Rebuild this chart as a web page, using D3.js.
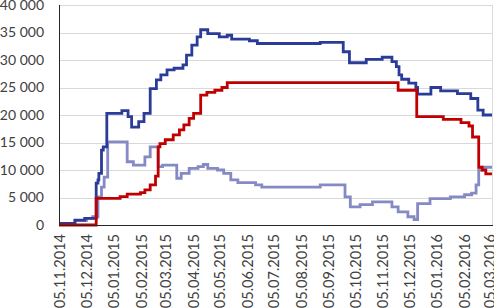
<!DOCTYPE html>
<html>
<head>
<meta charset="utf-8">
<script src="https://cdn.jsdelivr.net/npm/d3@7"></script>
<style>
  html, body { margin: 0; padding: 0; background: #fff; }
  svg { display: block; }
  text { font-family: Lato, "Open Sans", sans-serif; fill: #404040; }
</style>
</head>
<body>
<svg id="chart" width="494" height="308"></svg>
<script>
// tick labels on the date axis (5th of each month)
const tickLabels = ["05.11.2014", "05.12.2014", "05.01.2015", "05.02.2015", "05.03.2015",
  "05.04.2015", "05.05.2015", "05.06.2015", "05.07.2015", "05.08.2015", "05.09.2015",
  "05.10.2015", "05.11.2015", "05.12.2015", "05.01.2016", "05.02.2016", "05.03.2016"];
const yTicks = [0, 5000, 10000, 15000, 20000, 25000, 30000, 35000, 40000];

// step series, [date, value]
const darkBlue = [
  ["04.11.2014", 300], ["22.11.2014", 900], ["03.12.2014", 1200], ["16.12.2014", 7600],
  ["18.12.2014", 8200], ["19.12.2014", 9400], ["22.12.2014", 13600], ["24.12.2014", 14200],
  ["28.12.2014", 20300], ["14.01.2015", 20800], ["21.01.2015", 19700], ["25.01.2015", 17800],
  ["02.02.2015", 18800], ["08.02.2015", 20300], ["15.02.2015", 24800], ["22.02.2015", 26400],
  ["27.02.2015", 27300], ["06.03.2015", 28200], ["14.03.2015", 28500], ["24.03.2015", 29100],
  ["28.03.2015", 30900], ["03.04.2015", 32700], ["09.04.2015", 34200], ["13.04.2015", 35500],
  ["21.04.2015", 34800], ["04.05.2015", 34200], ["13.05.2015", 34500], ["18.05.2015", 33800],
  ["07.06.2015", 33500], ["16.06.2015", 33000], ["26.08.2015", 33200], ["21.09.2015", 31500],
  ["28.09.2015", 29500], ["17.10.2015", 30100], ["04.11.2015", 30500], ["15.11.2015", 29700],
  ["20.11.2015", 28800], ["23.11.2015", 27300], ["26.11.2015", 26500], ["04.12.2015", 25800],
  ["12.12.2015", 25000], ["14.12.2015", 23800], ["29.12.2015", 25000], ["09.01.2016", 24400],
  ["28.01.2016", 23900], ["12.02.2016", 23000], ["20.02.2016", 20900], ["26.02.2016", 20000],
  ["07.03.2016", 20000]
];
const red = [
  ["04.11.2014", 0], ["16.12.2014", 4850], ["12.01.2015", 5150], ["20.01.2015", 5600],
  ["04.02.2015", 5900], ["09.02.2015", 6400], ["15.02.2015", 7300], ["21.02.2015", 8900],
  ["24.02.2015", 14200], ["26.02.2015", 14800], ["04.03.2015", 15500], ["13.03.2015", 16400],
  ["20.03.2015", 17300], ["25.03.2015", 18200], ["31.03.2015", 19400], ["05.04.2015", 20300],
  ["13.04.2015", 23600], ["20.04.2015", 24100], ["29.04.2015", 24500], ["07.05.2015", 25000],
  ["13.05.2015", 25900], ["22.11.2015", 24500], ["13.12.2015", 19700], ["12.01.2016", 19200],
  ["01.02.2016", 18600], ["10.02.2016", 18000], ["14.02.2016", 16000], ["21.02.2016", 10500],
  ["25.02.2016", 10000], ["29.02.2016", 9300], ["07.03.2016", 9300]
];
const lightBlue = [
  ["04.11.2014", 300], ["22.11.2014", 800], ["05.12.2014", 1200], ["12.12.2014", 1500],
  ["18.12.2014", 5100], ["22.12.2014", 6900], ["25.12.2014", 8700], ["29.12.2014", 15100],
  ["20.01.2015", 11500], ["27.01.2015", 10900], ["09.02.2015", 12400], ["15.02.2015", 14200],
  ["24.02.2015", 10600], ["01.03.2015", 10900], ["17.03.2015", 8500], ["22.03.2015", 9400],
  ["31.03.2015", 10300], ["10.04.2015", 10600], ["16.04.2015", 11000], ["21.04.2015", 10300],
  ["02.05.2015", 10000], ["09.05.2015", 9400], ["17.05.2015", 8200], ["25.05.2015", 7700],
  ["14.06.2015", 7300], ["21.06.2015", 6900], ["26.08.2015", 7300], ["23.09.2015", 5100],
  ["29.09.2015", 3300], ["10.10.2015", 3700], ["24.10.2015", 4200], ["15.11.2015", 3300],
  ["22.11.2015", 2400], ["03.12.2015", 1500], ["10.12.2015", 1000], ["14.12.2015", 3900],
  ["28.12.2015", 4800], ["20.01.2016", 5100], ["05.02.2016", 5500], ["13.02.2016", 5800],
  ["18.02.2016", 7300], ["21.02.2016", 10000], ["25.02.2016", 10500], ["07.03.2016", 10500]
];

const parse = d3.timeParse("%d.%m.%Y");
const svg = d3.select("#chart");

const plotLeft = 59, plotRight = 492, plotTop = 5, plotBottom = 225;

let x = d3.scaleTime()
  .domain([parse("04.11.2014"), parse("07.03.2016")])
  .range([plotLeft, plotRight]);
let y = d3.scaleLinear().domain([0, 40000]).range([plotBottom, plotTop]);

// gridlines
svg.append("g")
  .selectAll("line")
  .data(yTicks.filter(d => d > 0))
  .join("line")
  .attr("x1", plotLeft).attr("x2", plotRight)
  .attr("y1", d => Math.round(y(d)) + 0.5).attr("y2", d => Math.round(y(d)) + 0.5)
  .attr("stroke", "#d9d9d9");

// right border of the plot area
svg.append("line")
  .attr("x1", plotRight + 0.5).attr("x2", plotRight + 0.5)
  .attr("y1", plotTop).attr("y2", plotBottom)
  .attr("stroke", "#d9d9d9");

// y axis labels
svg.append("g")
  .selectAll("text")
  .data(yTicks)
  .join("text")
  .attr("x", 44)
  .attr("y", d => y(d))
  .attr("dy", "0.35em")
  .attr("text-anchor", "end")
  .style("font-size", "14px")
  .text(d => d3.format(",")(d).replace(/,/g, " "));

// x axis labels, rotated
svg.append("g")
  .selectAll("text")
  .data(tickLabels)
  .join("text")
  .attr("transform", d => `translate(${x(parse(d))},${plotBottom + 9}) rotate(-90)`)
  .attr("dy", "0.36em")
  .attr("text-anchor", "end")
  .style("font-size", "14.5px")
  .text(d => d);

// step lines
let line = d3.line()
  .curve(d3.curveStepAfter)
  .x(d => x(parse(d[0])))
  .y(d => y(d[1]));

let series = [
  {data: lightBlue, color: "#8589c4"},
  {data: darkBlue, color: "#2b3c98"},
  {data: red, color: "#c00000"}
];
svg.append("g")
  .selectAll("path")
  .data(series)
  .join("path")
  .attr("d", d => line(d.data))
  .attr("fill", "none")
  .attr("stroke", d => d.color)
  .attr("stroke-width", 2.8)
  .attr("stroke-linejoin", "miter");

// axis lines
svg.append("line")
  .attr("x1", plotLeft + 0.5).attr("x2", plotLeft + 0.5)
  .attr("y1", plotTop).attr("y2", plotBottom)
  .attr("stroke", "#262626");
svg.append("line")
  .attr("x1", plotLeft).attr("x2", plotRight + 1)
  .attr("y1", plotBottom + 0.5).attr("y2", plotBottom + 0.5)
  .attr("stroke", "#262626");
</script>
</body>
</html>
